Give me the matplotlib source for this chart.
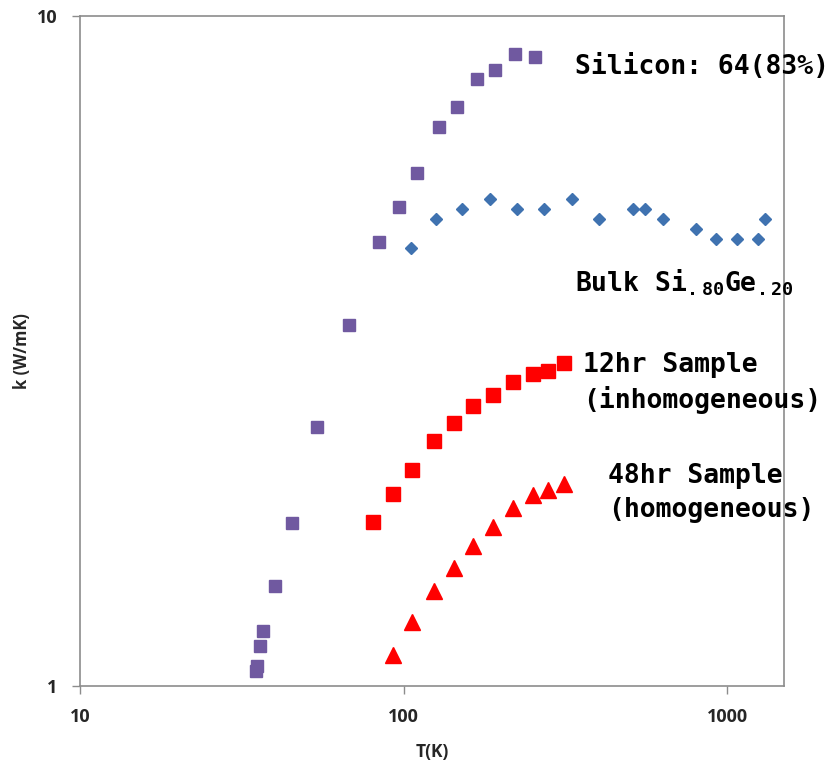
import matplotlib
matplotlib.use("Agg")
import matplotlib.pyplot as plt
from matplotlib.ticker import FixedLocator, NullLocator, FixedFormatter

# Thermal conductivity k (W/mK) vs temperature T (K)
si_T = [35.0, 35.2, 35.9, 36.9, 40.0, 45.3, 54.0, 68.0, 83.9, 97.0,
        109.7, 128.3, 146.2, 168.7, 191.7, 221.2, 255.0]
si_k = [1.053, 1.072, 1.147, 1.208, 1.409, 1.753, 2.432, 3.458, 4.603, 5.195,
        5.827, 6.825, 7.306, 8.062, 8.298, 8.77, 8.69]

sige_T = [105.1, 126.2, 151.2, 184.6, 224.9, 272.6, 332.8, 400.7, 512.6, 556.1,
          635.0, 800.0, 926.0, 1076.0, 1250.0, 1314.0]
sige_k = [4.50, 4.98, 5.15, 5.33, 5.15, 5.15, 5.33, 4.98, 5.15, 5.15,
          4.98, 4.81, 4.65, 4.65, 4.65, 4.98]

hr12_T = [80.4, 92.5, 106.4, 124.1, 143.1, 164.3, 189.0, 217.9, 251.3, 279.8, 312.3]
hr12_k = [1.755, 1.932, 2.101, 2.323, 2.466, 2.621, 2.719, 2.846, 2.922, 2.952, 3.037]

hr48_T = [92.5, 106.4, 124.1, 143.1, 164.3, 189.0, 217.9, 251.3, 279.8, 312.3]
hr48_k = [1.112, 1.247, 1.388, 1.502, 1.620, 1.725, 1.842, 1.928, 1.961, 2.000]

x_ticks = [10, 100, 1000]
y_ticks = [1, 10]

PURPLE = "#7059A0"
BLUE = "#3F72B0"
RED = "#FF0000"
AXIS_GRAY = "#8C8C8C"

LABEL_FONT = ["DejaVu Sans Mono"]
TICK_FONT = ["Open Sans", "DejaVu Sans"]

fig = plt.figure(figsize=(8.35, 7.61), dpi=100)
ax = fig.add_axes([80 / 835, 75 / 761, 704 / 835, 670 / 761])

ax.plot(si_T, si_k, linestyle="none", marker="s", markersize=9, color=PURPLE)
ax.plot(sige_T, sige_k, linestyle="none", marker="D", markersize=6.5, color=BLUE)
ax.plot(hr12_T, hr12_k, linestyle="none", marker="s", markersize=10, color=RED)
ax.plot(hr48_T, hr48_k, linestyle="none", marker="^", markersize=11.5, color=RED)

ax.set_xscale("log")
ax.set_yscale("log")
ax.set_xlim(10, 1500)
ax.set_ylim(1, 10)

ax.xaxis.set_major_locator(FixedLocator(x_ticks))
ax.xaxis.set_major_formatter(FixedFormatter([str(t) for t in x_ticks]))
ax.xaxis.set_minor_locator(NullLocator())
ax.yaxis.set_major_locator(FixedLocator(y_ticks))
ax.yaxis.set_major_formatter(FixedFormatter([str(t) for t in y_ticks]))
ax.yaxis.set_minor_locator(NullLocator())

for side in ax.spines.values():
    side.set_color(AXIS_GRAY)
    side.set_linewidth(1.2)
ax.tick_params(axis="both", which="major", length=6, width=1.0, color=AXIS_GRAY,
               direction="out", pad=10)
for lbl in ax.get_xticklabels() + ax.get_yticklabels():
    lbl.set_family(TICK_FONT)
    lbl.set_fontweight("bold")
    lbl.set_fontsize(13)
    lbl.set_color("#262626")

ax.set_xlabel("T(K)", family=TICK_FONT, fontweight="bold", fontsize=12.5,
              color="#262626")
ax.set_ylabel("k (W/mK)", family=TICK_FONT, fontweight="bold", fontsize=12,
              color="#262626")
ax.xaxis.set_label_coords(0.5, -0.0985)
ax.yaxis.set_label_coords(-0.082, 0.5)
ax.xaxis.label.set_va("center")
ax.yaxis.label.set_va("center")

# series labels placed in figure pixels
def fig_text(px, py, s):
    fig.text(px / 835, 1 - py / 761, s, family=LABEL_FONT, fontweight="bold",
             fontsize=19, ha="left", va="center", color="black")

fig_text(575, 67, "Silicon: 64(83%)")
fig_text(575, 283, r"Bulk Si$_{\mathregular{.80}}$Ge$_{\mathregular{.20}}$")
fig_text(583, 365, "12hr Sample")
fig_text(583, 400, "(inhomogeneous)")
fig_text(608, 476, "48hr Sample")
fig_text(608, 510, "(homogeneous)")

fig.savefig("out.png", dpi=100)
